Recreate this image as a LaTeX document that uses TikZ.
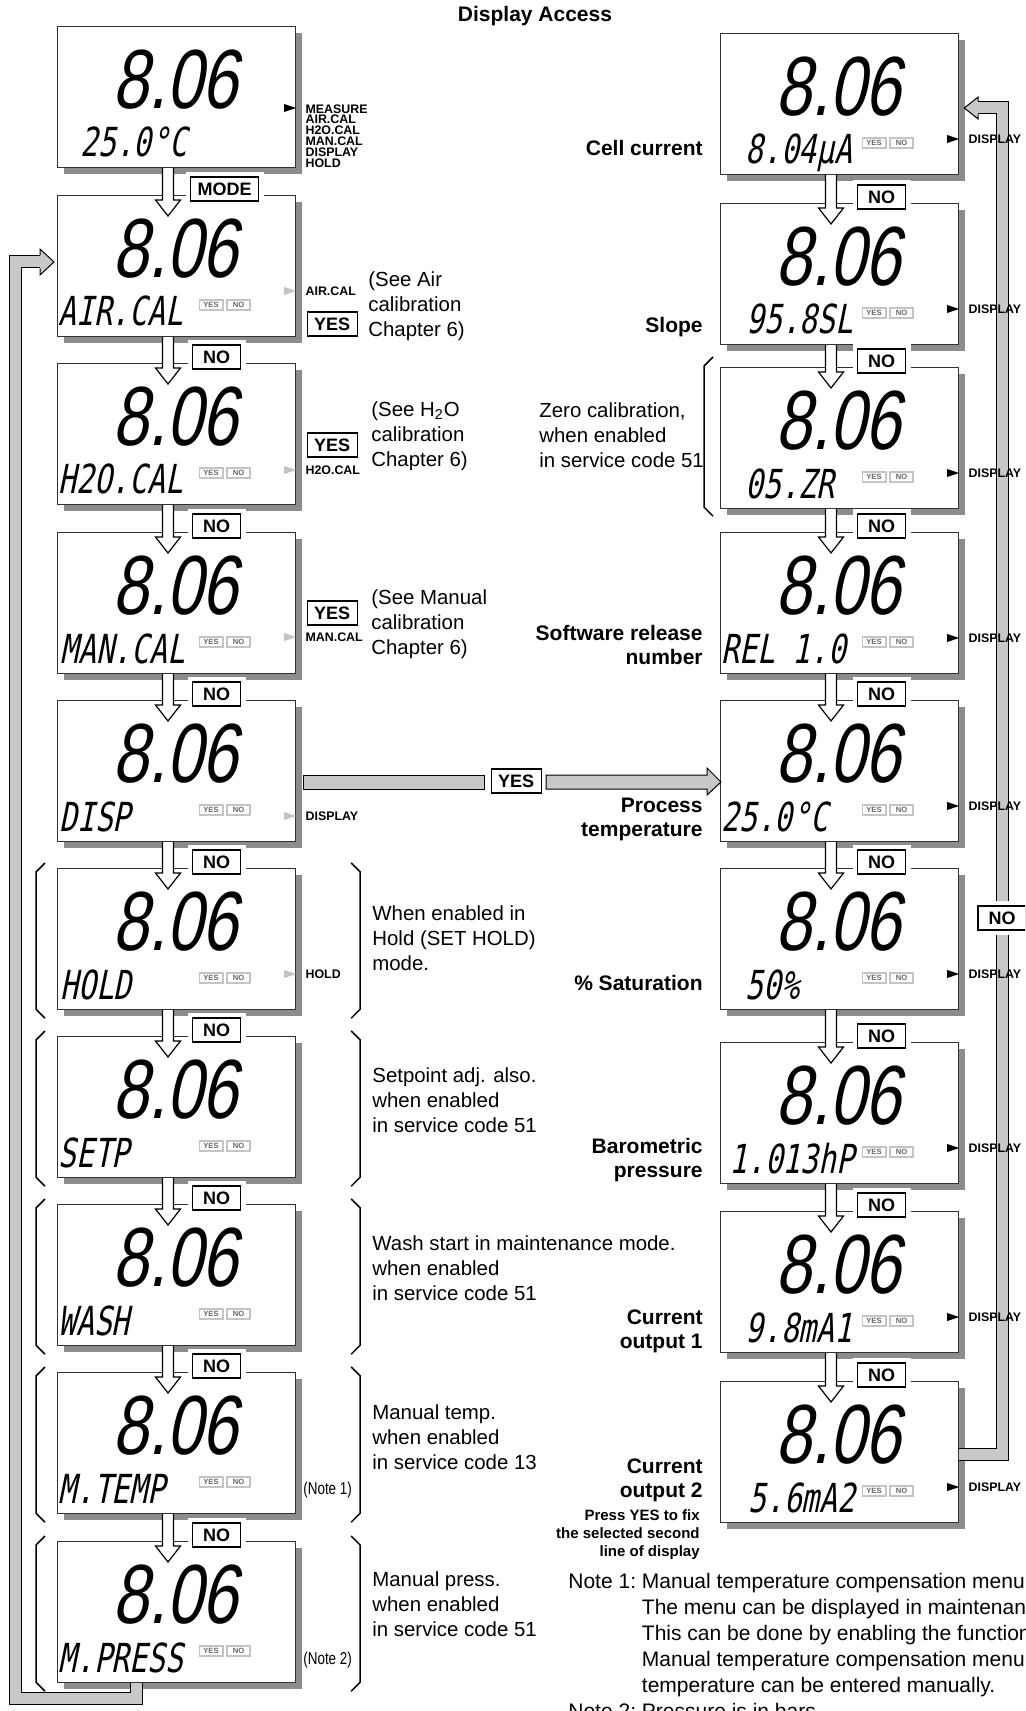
\documentclass[tikz,border=0pt]{standalone}
\usepackage{fontspec}
\setmainfont{Liberation Sans}
\newfontfamily\lcdbig{Liberation Sans}[FakeSlant=0.2,FakeStretch=0.77]
\newfontfamily\lcdsmall{DejaVu Sans Mono}[FakeSlant=0.2,FakeStretch=0.74]
\newfontfamily\narrowsans{Liberation Sans}[FakeStretch=0.78]
\usepackage{tikz}
\usetikzlibrary{calc}
\usetikzlibrary{positioning}
\definecolor{barfill}{HTML}{C8C8C8}
\definecolor{shadegrey}{HTML}{8C8C8C}
\definecolor{ledgrey}{HTML}{C4C4C4}

% one LCD panel: shadow, frame, main reading and second line
\newcommand{\lcdpanel}[4]{%
  \fill[shadegrey] ($(#2)+(7,7)$) rectangle ($(#2)+(245,148)$);
  \node[panel] (#1) at (#2) {};
  \node[bigdig] (#1-main) at ($(#1.north west)+(118,54)$) {8.06};
  \node[smalldig] (#1-line) at ($(#1.north west)+(#3,131)$) {#4};
}
% YES / NO keys inside a panel
\newcommand{\yesno}[1]{%
  \node[yn] (#1-yes) at ($(#1.north west)+(154,110)$) {YES};
  \node[yn] (#1-no) at ($(#1.north west)+(181.5,110)$) {NO};
}
% pointer at the right edge of a panel and its mode name
\newcommand{\modeflag}[4]{%
  \fill[#3] ($(#1.north east)+(-12,#2-4)$) -- ++(12,4) -- ++(-12,4) -- cycle;
  \node[flag] (#1-flag) at ($(#1.north east)+(9,#2)$) {#4};
}
% hollow arrow from one panel down into the next
\newcommand{\flowdown}[2]{%
  \draw[hollow] ($(#1.south west)+(105.5,0)$) -- ($(#2.north west)+(105.5,5)$)
    -- ++(-7,0) -- ($(#2.north west)+(111,21)$) -- ($(#2.north west)+(123.5,5)$)
    -- ++(-7,0) -- ($(#1.south west)+(116.5,0)$);
}
% brackets round an optional panel
\newcommand{\bracepair}[1]{%
  \draw[brace] ($(#1.north west)+(-12,-5)$) -- ++(-9,9) -- ($(#1.south west)+(-21,-1)$) -- ++(9,9);
  \draw[brace] ($(#1.north east)+(55,-5)$) -- ++(9,9) -- ($(#1.south east)+(64,-1)$) -- ++(-9,9);
}

\begin{document}
\begin{tikzpicture}[x=0.5pt, y=-0.5pt,
    panel/.style={rectangle, draw=black!80, line width=0.6pt, fill=white,
      anchor=north west, minimum width=119pt, minimum height=70.5pt, inner sep=0pt},
    bigdig/.style={font=\lcdbig\fontsize{42}{42}\selectfont, inner sep=0pt},
    smalldig/.style={font=\lcdsmall\fontsize{20}{20}\selectfont, inner sep=0pt,
      anchor=base west},
    yn/.style={rectangle, draw=ledgrey, line width=0.8pt, fill=white,
      minimum width=11.7pt, minimum height=4.8pt, inner sep=0pt, text=black!60,
      font=\fontsize{3.8}{4}\selectfont\bfseries},
    tag/.style={rectangle, draw=black, line width=0.6pt, fill=white,
      minimum width=24pt, minimum height=12pt, inner xsep=3.5pt, inner ysep=0pt,
      font=\fontsize{9}{9}\selectfont\bfseries, preaction={draw=white, line width=5pt}},
    flag/.style={anchor=west, inner sep=0pt, align=left,
      font=\fontsize{6.2}{5.4}\selectfont\bfseries},
    side/.style={anchor=west, inner sep=0pt, align=left,
      font=\fontsize{10.2}{12.5}\selectfont},
    caption/.style={anchor=east, inner sep=0pt, align=right,
      font=\fontsize{10.5}{12}\selectfont\bfseries},
    hint/.style={anchor=north east, inner sep=0pt, align=right,
      font=\fontsize{7.5}{9}\selectfont\bfseries},
    note/.style={anchor=west, inner sep=0pt, font=\narrowsans\fontsize{8.6}{9}\selectfont},
    notes/.style={anchor=north west, inner sep=0pt, font=\fontsize{10.5}{13}\selectfont},
    heading/.style={inner sep=0pt, font=\fontsize{10.5}{12}\selectfont\bfseries},
    hollow/.style={draw=black, line width=0.6pt, fill=white, line join=miter},
    barline/.style={draw=black, line width=6.5pt, line join=miter},
    barcore/.style={draw=barfill, line width=5.5pt, line join=miter},
    bararrow/.style={draw=black, line width=0.5pt, fill=barfill, line join=miter},
    brace/.style={line width=0.75pt},
  ]
  \useasboundingbox (0,0) rectangle (1025,1711);
  \fill[white] (0,0) rectangle (1025,1711);
  \clip (0,0) rectangle (1025,1711);

  \node[heading] (title) at (535,16) {Display Access};

  % Left column: mode menu
  \lcdpanel{L0}{57,26}{23}{25.0°C}
  \lcdpanel{L1}{57,195}{1}{AIR.CAL}
  \lcdpanel{L2}{57,363}{1}{H2O.CAL}
  \lcdpanel{L3}{57,532}{3}{MAN.CAL}
  \lcdpanel{L4}{57,700}{2}{DISP}
  \lcdpanel{L5}{57,868}{3}{HOLD}
  \lcdpanel{L6}{57,1036}{1}{SETP}
  \lcdpanel{L7}{57,1204}{1}{WASH}
  \lcdpanel{L8}{57,1372}{1}{M.TEMP}
  \lcdpanel{L9}{57,1541}{1}{M.PRESS}

  % Right column: second line of display
  \lcdpanel{R0}{720,33}{25}{8.04µA}
  \lcdpanel{R1}{720,203}{26}{95.8SL}
  \lcdpanel{R2}{720,367}{25}{05.ZR}
  \lcdpanel{R3}{720,532}{1}{REL 1.0}
  \lcdpanel{R4}{720,700}{1}{25.0°C}
  \lcdpanel{R5}{720,868}{25}{50\%}
  \lcdpanel{R6}{720,1042}{9}{1.013hP}
  \lcdpanel{R7}{720,1211}{25}{9.8mA1}
  \lcdpanel{R8}{720,1381}{28}{5.6mA2}

  \yesno{L1} \yesno{L2} \yesno{L3} \yesno{L4} \yesno{L5}
  \yesno{L6} \yesno{L7} \yesno{L8} \yesno{L9}
  \yesno{R0} \yesno{R1} \yesno{R2} \yesno{R3} \yesno{R4}
  \yesno{R5} \yesno{R6} \yesno{R7} \yesno{R8}

  % Optional menus
  \bracepair{L5} \bracepair{L6} \bracepair{L7} \bracepair{L8} \bracepair{L9}
  \draw[brace] ($(R2.north west)+(-7,-10)$) -- ++(-9,9) -- ($(R2.south west)+(-16,-2)$) -- ++(9,9);

  % Return paths
  \draw[barline] ($(L9.south west)+(79,0)$) -- ++(0,15) -| ($(L1.north west)+(-42,67)$)
    -- ($(L1.north west)+(-17,67)$);
  \draw[barcore] ($(L9.south west)+(79,0)$) -- ++(0,15) -| ($(L1.north west)+(-42,67)$)
    -- ($(L1.north west)+(-17,67)$);
  \draw[bararrow] ($(L1.north west)+(-17,60.5)$) -- ++(0,-6.5) -- ($(L1.north west)+(-3,67)$)
    -- ($(L1.north west)+(-17,80)$) -- ++(0,-6.5);
  \draw[barline] ($(R8.north east)+(0,73)$) -| ($(R0.north east)+(43,75)$)
    -- ($(R0.north east)+(19,75)$);
  \draw[barcore] ($(R8.north east)+(0,73)$) -| ($(R0.north east)+(43,75)$)
    -- ($(R0.north east)+(19,75)$);
  \draw[bararrow] ($(R0.north east)+(19,68.5)$) -- ++(0,-4.5) -- ($(R0.north east)+(5,75)$)
    -- ($(R0.north east)+(19,86)$) -- ++(0,-4.5);
  \node[tag] (back-no) at (1002,918) {NO};

  % DISP -> display selection
  \draw[bararrow] ($(L4.north east)+(7,75)$) rectangle ($(L4.north east)+(188,89)$);
  \node[tag] (disp-yes) at ($(L4.north east)+(220,81)$) {YES};
  \draw[bararrow] ($(R4.north west)+(-174,75)$) -- ($(R4.north west)+(-13,75)$) -- ++(0,-7)
    -- ($(R4.north west)+(1,82)$) -- ($(R4.north west)+(-13,95)$) -- ++(0,-6)
    -- ($(R4.north west)+(-174,89)$) -- cycle;

  % Down arrows and key tags
  \flowdown{L0}{L1} \flowdown{L1}{L2} \flowdown{L2}{L3} \flowdown{L3}{L4}
  \flowdown{L4}{L5} \flowdown{L5}{L6} \flowdown{L6}{L7} \flowdown{L7}{L8}
  \flowdown{L8}{L9}
  \flowdown{R0}{R1} \flowdown{R1}{R2} \flowdown{R2}{R3} \flowdown{R3}{R4}
  \flowdown{R4}{R5} \flowdown{R5}{R6} \flowdown{R6}{R7} \flowdown{R7}{R8}

  \node[tag, anchor=west] (L1-key) at ($(L1.north west)+(133,-6)$) {MODE};
  \node[tag, anchor=west] (L2-key) at ($(L2.north west)+(135,-6)$) {NO};
  \node[tag, anchor=west] (L3-key) at ($(L3.north west)+(135,-6)$) {NO};
  \node[tag, anchor=west] (L4-key) at ($(L4.north west)+(135,-6)$) {NO};
  \node[tag, anchor=west] (L5-key) at ($(L5.north west)+(135,-6)$) {NO};
  \node[tag, anchor=west] (L6-key) at ($(L6.north west)+(135,-6)$) {NO};
  \node[tag, anchor=west] (L7-key) at ($(L7.north west)+(135,-6)$) {NO};
  \node[tag, anchor=west] (L8-key) at ($(L8.north west)+(135,-6)$) {NO};
  \node[tag, anchor=west] (L9-key) at ($(L9.north west)+(135,-6)$) {NO};
  \node[tag, anchor=west] (R1-key) at ($(R1.north west)+(137,-6)$) {NO};
  \node[tag, anchor=west] (R2-key) at ($(R2.north west)+(137,-6)$) {NO};
  \node[tag, anchor=west] (R3-key) at ($(R3.north west)+(137,-6)$) {NO};
  \node[tag, anchor=west] (R4-key) at ($(R4.north west)+(137,-6)$) {NO};
  \node[tag, anchor=west] (R5-key) at ($(R5.north west)+(137,-6)$) {NO};
  \node[tag, anchor=west] (R6-key) at ($(R6.north west)+(137,-6)$) {NO};
  \node[tag, anchor=west] (R7-key) at ($(R7.north west)+(137,-6)$) {NO};
  \node[tag, anchor=west] (R8-key) at ($(R8.north west)+(137,-6)$) {NO};

  \node[tag] (L1-ok) at ($(L1.north east)+(36,129)$) {YES};
  \node[tag] (L2-ok) at ($(L2.north east)+(36,82)$) {YES};
  \node[tag] (L3-ok) at ($(L3.north east)+(36,81)$) {YES};

  % Mode pointers
  \fill[black] ($(L0.north east)+(-12,78)$) -- ++(12,4) -- ++(-12,4) -- cycle;
  \node[flag, anchor=north west] (L0-flag) at ($(L0.north east)+(9,78)$)
    {MEASURE\\AIR.CAL\\H2O.CAL\\MAN.CAL\\DISPLAY\\HOLD};
  \modeflag{L1}{96}{ledgrey}{AIR.CAL}
  \modeflag{L2}{107}{ledgrey}{H2O.CAL}
  \modeflag{L3}{105}{ledgrey}{MAN.CAL}
  \modeflag{L4}{116}{ledgrey}{DISPLAY}
  \modeflag{L5}{106}{ledgrey}{HOLD}
  \modeflag{R0}{106}{black}{DISPLAY}
  \modeflag{R1}{106}{black}{DISPLAY}
  \modeflag{R2}{106}{black}{DISPLAY}
  \modeflag{R3}{106}{black}{DISPLAY}
  \modeflag{R4}{106}{black}{DISPLAY}
  \modeflag{R5}{106}{black}{DISPLAY}
  \modeflag{R6}{106}{black}{DISPLAY}
  \modeflag{R7}{106}{black}{DISPLAY}
  \modeflag{R8}{106}{black}{DISPLAY}

  % Remarks beside the left column
  \node[side] (L1-text) at (368,306) {(See Air\\calibration\\Chapter 6)};
  \node[side] (L2-text) at (371,436) {(See H\textsubscript{2}O\\calibration\\Chapter 6)};
  \node[side] (L3-text) at (371,624) {(See Manual\\calibration\\Chapter 6)};
  \node[side] (L5-text) at (372,938) {When enabled in\\Hold (SET HOLD)\\mode.};
  \node[side] (L6-text) at (372,1100) {Setpoint adj. also.\\when enabled\\in service code 51};
  \node[side] (L7-text) at (372,1268) {Wash start in maintenance mode.\\when enabled\\in service code 51};
  \node[side] (L8-text) at (372,1437) {Manual temp.\\when enabled\\in service code 13};
  \node[side] (L9-text) at (372,1604) {Manual press.\\when enabled\\in service code 51};
  \node[note] (L8-note) at (303,1490) {(Note 1)};
  \node[note] (L9-note) at (303,1660) {(Note 2)};

  % Names beside the right column
  \node[caption] (R0-name) at (703,148) {Cell current};
  \node[caption] (R1-name) at (703,327) {Slope};
  \node[side] (R2-text) at (539,435) {Zero calibration,\\when enabled\\in service code 51};
  \node[caption] (R3-name) at (703,645) {Software release\\number};
  \node[caption] (R4-name) at (703,819) {Process\\temperature};
  \node[caption] (R5-name) at (703,983) {\% Saturation};
  \node[caption] (R6-name) at (703,1160) {Barometric\\pressure};
  \node[caption] (R7-name) at (703,1331) {Current\\output 1};
  \node[caption] (R8-name) at (703,1480) {Current\\output 2};
  \node[hint] (R8-hint) at (700,1509) {Press YES to fix\\the selected second\\line of display};

  % Notes
  \node[notes] (notes) at (568,1570) {\begin{tabular}{@{}l@{\ }l@{}}
    Note 1: & Manual temperature compensation menu\\
            & The menu can be displayed in maintenance\\
            & This can be done by enabling the function\\
            & Manual temperature compensation menu\\
            & temperature can be entered manually.\\
    Note 2: & Pressure is in bars
  \end{tabular}};
\end{tikzpicture}
\end{document}
